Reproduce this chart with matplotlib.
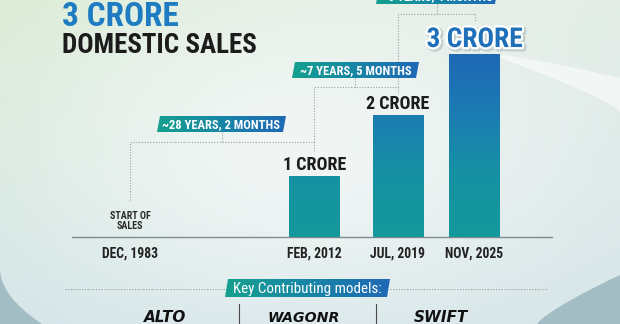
import numpy as np
import matplotlib
matplotlib.use("Agg")
import matplotlib.pyplot as plt
from matplotlib.patches import Polygon
from matplotlib import patheffects as pe
from matplotlib.colors import LinearSegmentedColormap
from matplotlib import font_manager as fm

# ---------------- data ----------------
categories = ["DEC, 1983", "FEB, 2012", "JUL, 2019", "NOV, 2025"]
sales_crore = [0, 1, 2, 3]
bar_labels = ["", "1 CRORE", "2 CRORE", "3 CRORE"]
gap_labels = ["~28 YEARS, 2 MONTHS", "~7 YEARS, 5 MONTHS", "~6 YEARS, 4 MONTHS"]
models = ["ALTO", "WAGONR", "SWIFT"]
title_top = "3 CRORE"
title_bottom = "DOMESTIC SALES"
start_label = "START OF\nSALES"
models_header = "Key Contributing models:"

# ---------------- layout ----------------
W, H = 620, 324
BASE_Y = 237            # baseline in px from top
PX_PER_CRORE = 61
BAR_X = [130, 314.5, 398, 474.5]
BAR_W = 51

installed = {f.name for f in fm.fontManager.ttflist}
FAM = [f for f in ["Roboto Condensed", "Liberation Sans Narrow", "Open Sans Condensed",
                   "Roboto", "DejaVu Sans"] if f in installed] or ["DejaVu Sans"]
BLUE = "#1e7cc2"
TEAL = "#13999c"
BAR_TOP_BLUE = "#1f68b5"

fig = plt.figure(figsize=(W / 100, H / 100), dpi=100)
renderer = fig.canvas.get_renderer()


def fit_size(text, target_px, weight="bold", family=None, style="normal"):
    """font size (pt) making `text` about target_px wide"""
    t = fig.text(0, 0, text, fontsize=20, fontweight=weight, family=family or FAM, style=style)
    w = t.get_window_extent(renderer).width
    t.remove()
    return 20 * target_px / w


# ---------------- background ----------------
bg = fig.add_axes([0, 0, 1, 1])
bg.set_xlim(0, W); bg.set_ylim(H, 0); bg.axis("off")
yy, xx = np.mgrid[0:H, 0:W]
u = xx / (W - 1); v = yy / (H - 1)
TL = np.array([218, 236, 211.0]); TR = np.array([226, 236, 229.0])
BL = np.array([210, 228, 232.0]); BR = np.array([212, 228, 232.0])
img = (((1 - u) * (1 - v))[..., None] * TL + (u * (1 - v))[..., None] * TR +
       ((1 - u) * v)[..., None] * BL + (u * v)[..., None] * BR)
d = ((xx - 300) / 270.0) ** 2 + ((yy - 150) / 170.0) ** 2
wgt = (np.exp(-d) * 0.85)[..., None]
img = img * (1 - wgt) + np.array([245, 248, 248.0]) * wgt
bg.imshow(np.clip(img / 255, 0, 1), extent=(0, W, H, 0), aspect="auto", zorder=0)

# white swoosh top-right
t = np.linspace(0, 1, 40)
up_x = 495 + 125 * t; up_y = 54 + 24 * t ** 1.2
lo_x = 620 - 115 * t; lo_y = 112 - 52 * t ** 0.8
sw = Polygon(np.column_stack([np.r_[up_x, lo_x], np.r_[up_y, lo_y]]),
             closed=True, fc="white", ec="none", alpha=0.55, zorder=1)
bg.add_patch(sw)
# bottom corner swooshes
t = np.linspace(0, 1, 30)
bl = Polygon(np.column_stack([np.r_[0, 42 * t ** 1.4, 0], np.r_[268, 268 + 56 * t ** 0.7, 324]]),
             closed=True, fc="#a3bdc4", ec="none", zorder=1)
bg.add_patch(bl)
br = Polygon(np.column_stack([np.r_[537 + 83 * t, 620], np.r_[324 - 49 * t ** 0.8, 324]]),
             closed=True, fc="#a2bdc4", ec="none", zorder=1)
bg.add_patch(br)

# ---------------- bar chart ----------------
ax = fig.add_axes([0, (H - BASE_Y) / H, 1, BASE_Y / H])
ax.set_zorder(1)
ax.patch.set_alpha(0)
ymax_ax = BASE_Y / PX_PER_CRORE
bars = ax.bar(BAR_X, sales_crore, width=BAR_W, color=TEAL, zorder=2, linewidth=0)
bar_cmap = LinearSegmentedColormap.from_list("bar", [TEAL, "#1692a2", "#1b7cb2", BAR_TOP_BLUE])
grad = np.linspace(0, 1, 256).reshape(-1, 1)
top = max(sales_crore)
for b in bars:
    if b.get_height() <= 0:
        continue
    im = ax.imshow(grad, extent=(b.get_x(), b.get_x() + b.get_width(), 0, top),
                   origin="lower", aspect="auto", cmap=bar_cmap, zorder=3)
    im.set_clip_path(b)
ax.set_xlim(0, W); ax.set_ylim(0, ymax_ax)
for s in ["top", "left", "right"]:
    ax.spines[s].set_visible(False)
ax.spines["bottom"].set_bounds(72, 552)
ax.spines["bottom"].set_color("#7f8b90")
ax.spines["bottom"].set_linewidth(1.0)
ax.set_yticks([])
ax.set_xticks(BAR_X, categories)
date_fs = fit_size("FEB, 2012", 55)
ax.tick_params(axis="x", length=0, pad=7.0)
for lab in ax.get_xticklabels():
    lab.set_fontfamily(FAM); lab.set_fontweight("bold"); lab.set_fontsize(date_fs); lab.set_color("#222222")

small_fs = fit_size("1 CRORE", 63)
big_fs = fit_size("3 CRORE", 96)
for x, h, lab in zip(BAR_X, sales_crore, bar_labels):
    if not lab:
        continue
    if h == top:
        ax.annotate(lab, (x, h), xytext=(0, 5), textcoords="offset points",
                    ha="center", va="baseline", fontsize=big_fs, fontweight="bold",
                    family=FAM, color="#1f70b8", zorder=5,
                    path_effects=[pe.Stroke(linewidth=4, foreground="#9aa8ad", alpha=0.45, offset=(1.2, -1.2)),
                                  pe.Stroke(linewidth=3.2, foreground="white"), pe.Normal()])
    else:
        ax.annotate(lab, (x, h), xytext=(0, 4.3), textcoords="offset points",
                    ha="center", va="baseline", fontsize=small_fs, fontweight="bold",
                    family=FAM, color="#1c1c1c", zorder=5)

ax.annotate(start_label, (BAR_X[0], 0), xytext=(0, 11.3), textcoords="offset points",
            ha="center", va="center", fontsize=fit_size("START OF", 41), fontweight="bold", family=FAM,
            color="#2a2a2a", linespacing=1.0, multialignment="center")

# ---------------- overlay: titles, connectors, tags ----------------
ov = fig.add_axes([0, 0, 1, 1])
ov.set_zorder(2)
ov.patch.set_alpha(0)
ov.set_xlim(0, W); ov.set_ylim(H, 0); ov.axis("off")

ov.text(62, 25.5, title_top, fontsize=min(24.0, fit_size(title_top, 125)), fontweight="bold", family=FAM,
        color=BLUE, va="baseline", ha="left")
ov.text(62, 53, title_bottom, fontsize=fit_size(title_bottom, 195), fontweight="bold", family=FAM,
        color="#1c1c1c", va="baseline", ha="left")

DOT = dict(color="#9aa0a3", lw=0.8, ls=(0, (1, 1.5)), zorder=2)
ov.plot([130, 130, 314, 314], [200, 142, 142, 153], **DOT)
ov.plot([222, 222], [132, 142], **DOT)
ov.plot([314, 314, 398, 398], [142, 87, 87, 93], **DOT)
ov.plot([355, 355], [78, 87], **DOT)
ov.plot([398, 398, 475, 475], [87, 14, 14, 21], **DOT)
ov.plot([437, 437], [4, 14], **DOT)

tag_cmap = LinearSegmentedColormap.from_list("tag", ["#15a08f", "#1786a6", "#1f69b6"])
hgrad = np.linspace(0, 1, 256).reshape(1, -1)


def tag(left, right, ytop, ybot, text, base, fs, weight="bold", skew=3):
    poly = Polygon([(left + skew, ytop), (right, ytop), (right - skew, ybot), (left, ybot)],
                   closed=True, fc="none", ec="none")
    ov.add_patch(poly)
    im = ov.imshow(hgrad, extent=(left, right, ybot, ytop), cmap=tag_cmap, aspect="auto", zorder=3)
    im.set_clip_path(poly)
    ov.text((left + right) / 2, base, text, ha="center", va="baseline", fontsize=fs,
            fontweight=weight, family=FAM, color="white", zorder=4)


tag_fs = fit_size(gap_labels[0], 118)
tag(157, 286, 116, 132, gap_labels[0], 128.3, tag_fs)
tag(292, 419, 62, 78, gap_labels[1], 74.3, tag_fs)
tag(376, 498, -14, 4, gap_labels[2], 0.5, tag_fs)

# models row
ov.plot([65, 225], [289, 289], **DOT)
ov.plot([390, 548], [289, 289], **DOT)
tag(225, 390, 279, 297, models_header, 293, fit_size(models_header, 148, weight="normal"), weight="normal")
for sx in [239, 376]:
    ov.plot([sx, sx], [304, 324], color="#4a4a4a", lw=0.8, zorder=2)
for mx, m, mw in zip([165, 304, 441], models, [50, 72, 62]):
    ov.text(mx, 322, m, ha="center", va="baseline",
            fontsize=min(11, fit_size(m, mw, family="DejaVu Sans", style="italic")),
            fontweight="heavy", style="italic", family="DejaVu Sans", color="#111111", zorder=4)

ov.set_xlim(0, W); ov.set_ylim(H, 0)
fig.savefig("out.png", dpi=100)
